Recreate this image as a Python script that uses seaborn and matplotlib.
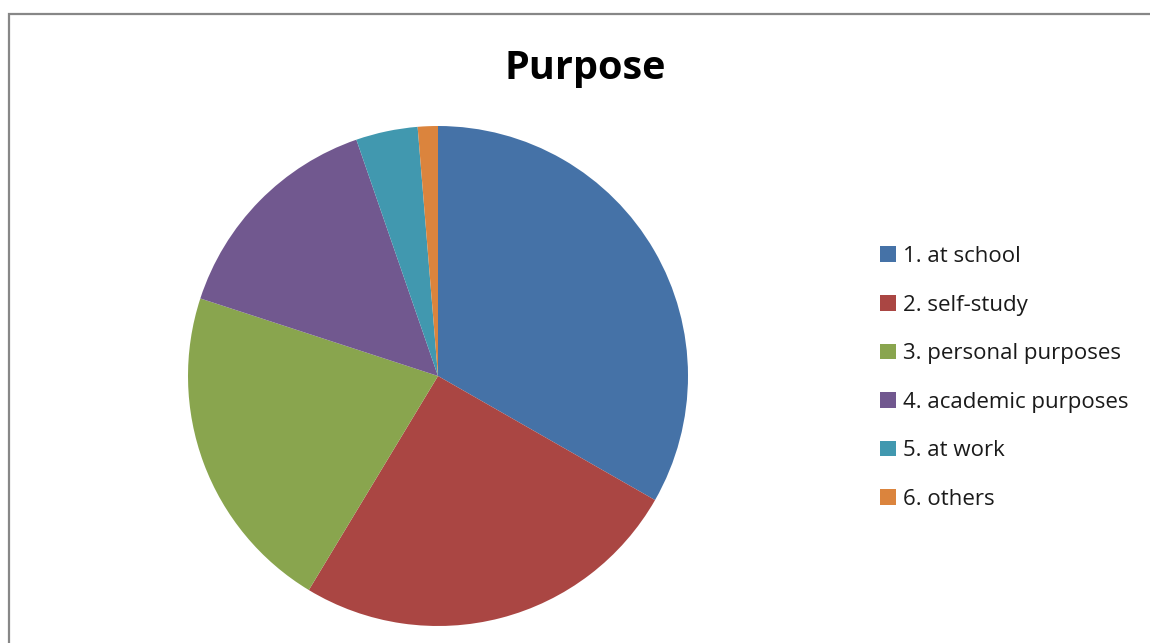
import matplotlib
matplotlib.use("Agg")
import matplotlib.pyplot as plt
import seaborn as sns
from matplotlib.patches import Rectangle, Patch

categories = ["1. at school", "2. self-study", "3. personal purposes",
              "4. academic purposes", "5. at work", "6. others"]
shares = [33.3, 25.4, 21.4, 14.7, 4.0, 1.3]
colors = ["#4572A7", "#AA4643", "#89A54E", "#71588F", "#4198AF", "#DB843D"]
title = "Purpose"

sns.set_theme(style="white")
plt.rcParams["font.family"] = ["Open Sans", "DejaVu Sans"]

W, H = 1150, 643
fig = plt.figure(figsize=(W / 100, H / 100), dpi=100)
fig.patch.set_facecolor("white")

# outer chart frame (runs past the right and bottom edges)
fig.add_artist(Rectangle((9 / W, -0.1), 1.2, (H - 14) / H + 0.1,
                         transform=fig.transFigure, fill=False,
                         edgecolor="#878787", linewidth=1.6))

cx, cy, r = 438, 376, 250
ax = fig.add_axes([(cx - r) / W, (H - cy - r) / H, 2 * r / W, 2 * r / H])
ax.pie(shares, colors=colors, startangle=90, counterclock=False,
       radius=1.0, wedgeprops=dict(linewidth=0))
ax.set_xlim(-1, 1)
ax.set_ylim(-1, 1)
ax.set_aspect("equal")
ax.axis("off")

fig.text(585 / W, 1 - 68 / H, title, ha="center", va="center",
         fontsize=28.5, fontweight="bold", color="black")

handles = [Patch(facecolor=c, edgecolor="none") for c in colors]
fig.legend(handles, categories, loc="upper left",
           bbox_to_anchor=(869 / W, 1 - 235 / H), frameon=False,
           fontsize=16, handlelength=0.72, handleheight=0.72,
           handletextpad=0.3, labelspacing=1.24, borderpad=0,
           labelcolor="#1a1a1a")

fig.savefig("out.png", dpi=100)
